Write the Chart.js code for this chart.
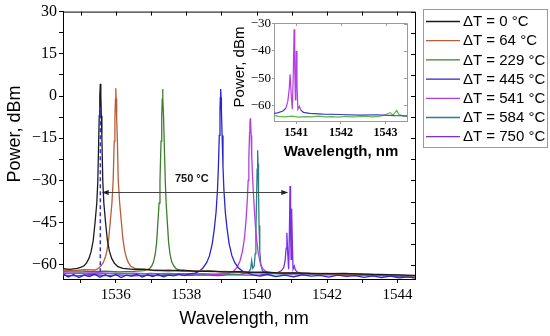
<!DOCTYPE html>
<html>
<head>
<meta charset="utf-8">
<script src="https://cdn.jsdelivr.net/npm/chart.js@4.4.1/dist/chart.umd.min.js"></script>
<style>
  body { margin: 0; background: #fff; }
  #wrap { position: relative; width: 550px; height: 336px; }
  #main { position: absolute; left: 0; top: 0; width: 550px; height: 336px; }
  #inset { position: absolute; left: 220px; top: 14px; width: 195px; height: 150px; }
</style>
</head>
<body>
<div id="wrap">
  <canvas id="main" width="550" height="336"></canvas>
  <canvas id="inset" width="195" height="150"></canvas>
</div>
<script>
// ============================================
// DATA (wavelength nm, power dBm)
// ============================================

const seriesLabels = ['ΔT = 0 °C', 'ΔT = 64 °C', 'ΔT = 229 °C', 'ΔT = 445 °C', 'ΔT = 541 °C', 'ΔT = 584 °C', 'ΔT = 750 °C'];

const dT0 = [[1534.5,-61.3],[1534.7,-61.6],[1534.9,-61.2],[1535.0,-60.9],[1535.1,-60.3],[1535.17,-59.3],[1535.24,-57.6],[1535.3,-55.2],[1535.36,-51.2],[1535.41,-45],[1535.46,-38],[1535.49,-30],[1535.515,-15],[1535.53,-7],[1535.545,0],[1535.56,4.4],[1535.575,0],[1535.59,-7],[1535.605,-15],[1535.63,-30],[1535.66,-38],[1535.71,-45],[1535.76,-51.2],[1535.82,-55.2],[1535.88,-57.6],[1535.96,-59.4],[1536.06,-60.6],[1536.2,-61.2],[1536.5,-61.6],[1536.8,-61.5],[1537.1,-61.9],[1537.5,-62.1],[1537.9,-61.9],[1538.3,-62.3],[1538.7,-62.2],[1539.1,-62.5],[1539.5,-62.4],[1539.9,-62.7],[1540.3,-62.6],[1540.7,-62.9],[1541.1,-62.8],[1541.5,-63.0],[1542.0,-63.1],[1542.5,-63.0],[1543.0,-63.3],[1543.5,-63.4],[1544.0,-63.5],[1544.5,-63.7]];

const dT64 = [[1534.5,-61.8],[1534.8,-62.0],[1535.1,-61.7],[1535.4,-61.8],[1535.5,-61.3],[1535.57,-60.4],[1535.64,-59.3],[1535.7,-57.4],[1535.75,-54.8],[1535.8,-50.6],[1535.84,-45],[1535.89,-38],[1535.925,-30],[1535.955,-16],[1535.975,-8],[1535.99,-1],[1536.0,2.8],[1536.01,-1],[1536.025,-8],[1536.045,-16],[1536.07,-30],[1536.11,-38],[1536.16,-45],[1536.2,-50.6],[1536.25,-54.8],[1536.3,-57.4],[1536.36,-59.3],[1536.43,-60.5],[1536.55,-61.3],[1536.8,-61.7],[1537.1,-62.0],[1537.5,-61.8],[1537.9,-62.2],[1538.3,-62.1],[1538.7,-62.4],[1539.1,-62.3],[1539.5,-62.6],[1539.9,-62.5],[1540.3,-62.8],[1540.7,-62.7],[1541.1,-63.0],[1541.5,-62.9],[1542.0,-63.2],[1542.5,-63.3],[1543.0,-63.2],[1543.5,-63.5],[1544.0,-63.7],[1544.5,-63.9]];

const dT229 = [[1534.5,-62.3],[1534.9,-62.1],[1535.3,-62.4],[1535.7,-62.2],[1536.1,-62.5],[1536.5,-62.3],[1536.8,-62.0],[1536.95,-61.4],[1537.02,-60.4],[1537.07,-59.0],[1537.12,-56.2],[1537.16,-52],[1537.19,-46],[1537.23,-38],[1537.255,-30],[1537.285,-16],[1537.305,-7],[1537.32,-1],[1537.33,2.5],[1537.34,-1],[1537.355,-7],[1537.375,-16],[1537.405,-30],[1537.43,-38],[1537.47,-46],[1537.5,-52],[1537.54,-56.2],[1537.59,-59.0],[1537.65,-60.4],[1537.72,-61.4],[1537.85,-62.0],[1538.2,-62.3],[1538.6,-62.1],[1539.0,-62.5],[1539.4,-62.4],[1539.8,-62.7],[1540.2,-62.6],[1540.6,-62.9],[1541.0,-62.8],[1541.5,-63.1],[1542.0,-63.0],[1542.5,-63.3],[1543.0,-63.2],[1543.5,-63.5],[1544.0,-63.6],[1544.5,-63.9]];

const dT445 = [[1534.5,-63.2],[1534.65,-64.3],[1534.8,-63.4],[1534.95,-64.5],[1535.1,-63.6],[1535.25,-64.1],[1535.4,-63.3],[1535.55,-64.4],[1535.7,-63.5],[1535.85,-64.2],[1536.0,-63.4],[1536.15,-64.5],[1536.3,-63.6],[1536.45,-64.0],[1536.6,-63.3],[1536.75,-64.3],[1536.9,-63.5],[1537.05,-64.1],[1537.2,-63.4],[1537.35,-64.2],[1537.5,-63.6],[1537.65,-63.9],[1537.8,-63.3],[1537.95,-63.8],[1538.1,-63.2],[1538.25,-62.9],[1538.38,-62.2],[1538.48,-61.0],[1538.58,-59.2],[1538.66,-56.8],[1538.74,-52.5],[1538.8,-47],[1538.85,-41],[1538.89,-33],[1538.915,-25],[1538.94,-14],[1538.96,-5],[1538.97,-0.5],[1538.98,2.5],[1538.99,-0.5],[1539.0,-5],[1539.02,-14],[1539.045,-25],[1539.07,-33],[1539.11,-41],[1539.16,-47],[1539.22,-52.5],[1539.3,-56.8],[1539.38,-59.2],[1539.48,-61.0],[1539.6,-62.2],[1539.75,-62.9],[1539.9,-63.5],[1540.1,-64.0],[1540.3,-63.4],[1540.55,-64.1],[1540.8,-63.6],[1541.05,-64.2],[1541.3,-63.5],[1541.55,-64.0],[1541.8,-63.7],[1542.05,-64.3],[1542.3,-63.6],[1542.55,-64.1],[1542.8,-63.8],[1543.05,-64.4],[1543.3,-63.9],[1543.55,-64.5],[1543.8,-64.0],[1544.05,-64.6],[1544.3,-64.2],[1544.5,-64.7]];

const dT541 = [[1534.5,-62.8],[1535.0,-63.0],[1535.5,-62.7],[1536.0,-63.1],[1536.5,-62.9],[1537.0,-63.2],[1537.5,-63.0],[1538.0,-63.3],[1538.5,-63.1],[1538.9,-63.4],[1539.2,-63.0],[1539.35,-62.2],[1539.45,-60.8],[1539.53,-58.5],[1539.6,-55],[1539.66,-50],[1539.7,-44],[1539.74,-36],[1539.76,-30],[1539.78,-22],[1539.8,-13],[1539.81,-9.5],[1539.82,-7.9],[1539.83,-9.5],[1539.845,-14],[1539.86,-21],[1539.89,-30],[1539.925,-38],[1539.96,-45],[1540.0,-51],[1540.05,-56],[1540.11,-59.5],[1540.18,-61.5],[1540.3,-62.6],[1540.6,-63.0],[1541.0,-63.2],[1541.5,-63.0],[1542.0,-63.4],[1542.5,-63.3],[1543.0,-63.6],[1543.5,-63.5],[1544.0,-63.8],[1544.5,-64.0]];

const dT584 = [[1534.5,-63.0],[1535.0,-62.8],[1535.5,-63.2],[1536.0,-62.9],[1536.5,-63.3],[1537.0,-63.0],[1537.5,-63.4],[1538.0,-63.1],[1538.5,-63.5],[1539.0,-63.2],[1539.5,-63.4],[1539.75,-62.8],[1539.83,-61.5],[1539.86,-58.5],[1539.89,-61.2],[1539.93,-60.5],[1539.96,-56],[1539.98,-48],[1540.0,-36],[1540.015,-26],[1540.03,-19.3],[1540.04,-24],[1540.055,-34],[1540.07,-46],[1540.09,-55],[1540.12,-60],[1540.17,-62.2],[1540.3,-63.0],[1540.8,-63.3],[1541.3,-63.1],[1541.8,-63.5],[1542.3,-63.3],[1542.8,-63.7],[1543.3,-63.5],[1543.8,-63.9],[1544.5,-64.1]];

const dT750 = [[1534.5,-63.6],[1534.9,-63.9],[1535.3,-63.4],[1535.7,-63.8],[1536.1,-63.5],[1536.5,-63.9],[1536.9,-63.6],[1537.3,-63.8],[1537.7,-63.4],[1538.1,-63.7],[1538.5,-63.5],[1538.9,-63.8],[1539.3,-63.4],[1539.7,-63.6],[1540.1,-63.5],[1540.4,-63.2],[1540.58,-62.8],[1540.7,-62.1],[1540.77,-61.0],[1540.81,-58.5],[1540.84,-54],[1540.86,-48.6],[1540.885,-56],[1540.91,-61.5],[1540.93,-50],[1540.95,-32],[1540.965,-47],[1540.98,-58],[1540.99,-49],[1541.0,-40],[1541.015,-52],[1541.035,-61.5],[1541.07,-60.4],[1541.1,-61.8],[1541.16,-62.6],[1541.3,-63.0],[1541.6,-63.3],[1542.0,-63.4],[1542.4,-63.6],[1542.8,-63.5],[1543.2,-63.8],[1543.6,-63.9],[1544.0,-64.1],[1544.5,-64.3]];

// green trace shown in the inset
const inset229 = [[1540.5,-63.7],[1540.6,-64.1],[1540.75,-64.3],[1540.9,-64.0],[1541.05,-64.4],[1541.2,-64.2],[1541.35,-64.3],[1541.5,-64.0],[1541.65,-64.3],[1541.8,-64.2],[1541.95,-64.4],[1542.1,-64.1],[1542.25,-64.3],[1542.4,-64.2],[1542.55,-64.0],[1542.7,-64.3],[1542.85,-64.1],[1543.0,-63.5],[1543.1,-62.7],[1543.17,-63.6],[1543.25,-61.9],[1543.3,-63.4],[1543.4,-64.0],[1543.5,-64.2]];

const xTicksMain = [1536, 1538, 1540, 1542, 1544];
const yTicksMain = [-60, -45, -30, -15, 0, 15, 30];
const xTicksInset = [1541, 1542, 1543];
const yTicksInset = [-60, -50, -40, -30];

// ============================================
// STYLE
// ============================================

const colors = {
    d0: '#1b1b1b',
    d64: '#b95c36',
    d229: '#3f7d2e',
    d445: '#2626cc',
    d541: '#b03ee0',
    d584: '#2f7d86',
    d750: '#7b2ee6',
    insetBase: '#3a3ad8',
    insetPeak: '#b43ee0',
    insetGreen: '#5cb84a',
    dash: '#3434c8'
};

const serif = "'Liberation Serif', 'Times New Roman', serif";
const sans = "'Liberation Sans', Arial, sans-serif";

// major ticks plus a minor tick halfway between
function withMinor(major, min, max) {
    const half = (major[1] - major[0]) / 2;
    let v = major[0];
    while (v - half >= min - 1e-9) v -= half;
    const out = [];
    for (; v <= max + 1e-9; v += half) out.push({ value: +v.toFixed(3) });
    return out;
}

const fmtNum = v => v < 0 ? '\u2212' + (-v) : String(v);

// top and right frame with inward ticks
function drawFrame(chart, color, tickLen) {
    const { ctx, chartArea: a, scales } = chart;
    ctx.save();
    ctx.strokeStyle = color;
    ctx.lineWidth = 1;
    ctx.beginPath();
    ctx.moveTo(a.left, a.top + 0.5);
    ctx.lineTo(a.right + 0.5, a.top + 0.5);
    ctx.lineTo(a.right + 0.5, a.bottom);
    scales.x.ticks.forEach(t => {
        const px = Math.round(scales.x.getPixelForValue(t.value)) + 0.5;
        ctx.moveTo(px, a.top);
        ctx.lineTo(px, a.top + tickLen);
    });
    scales.y.ticks.forEach(t => {
        const py = Math.round(scales.y.getPixelForValue(t.value)) + 0.5;
        ctx.moveTo(a.right, py);
        ctx.lineTo(a.right - tickLen, py);
    });
    ctx.stroke();
    ctx.restore();
}

// ============================================
// MAIN CHART
// ============================================

const arrowFrom = 1535.6, arrowTo = 1540.9, arrowLevel = -34.2;
const dashAt = 1535.56;

const mainDecor = {
    id: 'mainDecor',
    afterDatasetsDraw(chart) {
        const { ctx, scales: { x, y } } = chart;
        ctx.save();
        // dashed marker on the 0 °C peak
        ctx.strokeStyle = colors.dash;
        ctx.lineWidth = 1.5;
        ctx.setLineDash([4, 3]);
        ctx.beginPath();
        ctx.moveTo(x.getPixelForValue(dashAt), y.getPixelForValue(-4));
        ctx.lineTo(x.getPixelForValue(dashAt), y.getPixelForValue(-62.5));
        ctx.stroke();
        ctx.setLineDash([]);

        // shift arrow
        const x1 = x.getPixelForValue(arrowFrom), x2 = x.getPixelForValue(arrowTo);
        const ay = Math.round(y.getPixelForValue(arrowLevel)) + 0.5;
        ctx.strokeStyle = '#444';
        ctx.fillStyle = '#222';
        ctx.lineWidth = 1;
        ctx.beginPath();
        ctx.moveTo(x1 + 2, ay);
        ctx.lineTo(x2 - 2, ay);
        ctx.stroke();
        ctx.beginPath();
        ctx.moveTo(x1, ay); ctx.lineTo(x1 + 7, ay - 2.5); ctx.lineTo(x1 + 7, ay + 2.5); ctx.closePath();
        ctx.moveTo(x2, ay); ctx.lineTo(x2 - 7, ay - 2.5); ctx.lineTo(x2 - 7, ay + 2.5); ctx.closePath();
        ctx.fill();

        ctx.font = 'bold 11px ' + sans;
        ctx.textAlign = 'center';
        ctx.textBaseline = 'middle';
        ctx.fillStyle = '#111';
        ctx.fillText('750 °C', x.getPixelForValue(1538.16), y.getPixelForValue(-29.5));
        ctx.restore();
    },
    afterDraw(chart) {
        const { ctx } = chart;
        drawFrame(chart, '#000', 4);
        ctx.save();
        // axis titles
        ctx.fillStyle = '#000';
        ctx.font = '18px ' + sans;
        ctx.textAlign = 'center';
        ctx.textBaseline = 'middle';
        ctx.fillText('Wavelength, nm', 244, 319);
        ctx.translate(15, 134);
        ctx.rotate(-Math.PI / 2);
        ctx.fillText('Power, dBm', 0, 0);
        ctx.setTransform(1, 0, 0, 1, 0, 0);

        // legend box
        ctx.strokeStyle = '#9a9a9a';
        ctx.lineWidth = 1;
        ctx.strokeRect(423.5, 9.5, 124, 138);
        ctx.font = '15px ' + sans;
        ctx.textAlign = 'left';
        chart.data.datasets.forEach((ds, i) => {
            const ly = 21.5 + i * 19.2;
            ctx.strokeStyle = ds.borderColor;
            ctx.lineWidth = 1.3;
            ctx.beginPath();
            ctx.moveTo(426, ly);
            ctx.lineTo(460, ly);
            ctx.stroke();
            ctx.fillStyle = '#000';
            ctx.fillText(ds.label, 463, ly + 0.5);
        });
        ctx.restore();
    }
};

const mainSeries = [dT0, dT64, dT229, dT445, dT541, dT584, dT750];
const mainColors = [colors.d0, colors.d64, colors.d229, colors.d445, colors.d541, colors.d584, colors.d750];

new Chart(document.getElementById('main'), {
    type: 'scatter',
    data: {
        datasets: mainSeries.map((d, i) => ({
            label: seriesLabels[i],
            data: d,
            showLine: true,
            borderColor: mainColors[i],
            borderWidth: 1.3,
            pointRadius: 0,
            tension: 0
        }))
    },
    options: {
        responsive: false,
        devicePixelRatio: 1,
        animation: false,
        events: [],
        layout: { padding: { left: 0, right: 135, top: 10, bottom: 0 } },
        plugins: { legend: { display: false }, tooltip: { enabled: false } },
        scales: {
            x: {
                type: 'linear',
                min: 1534.5,
                max: 1544.5,
                afterFit: s => { s.height = 57; },
                afterBuildTicks: s => { s.ticks = withMinor(xTicksMain, s.min, s.max); },
                border: { color: '#000', width: 1 },
                grid: { drawOnChartArea: false, tickLength: 4, tickColor: '#000' },
                ticks: {
                    autoSkip: false,
                    maxRotation: 0,
                    padding: 3,
                    color: '#000',
                    font: { family: serif, size: 15 },
                    callback: v => xTicksMain.includes(v) ? String(v) : ''
                }
            },
            y: {
                min: -65,
                max: 30,
                afterFit: s => { s.width = 63; },
                afterBuildTicks: s => { s.ticks = withMinor(yTicksMain, s.min, s.max); },
                border: { color: '#000', width: 1 },
                grid: { drawOnChartArea: false, tickLength: 4, tickColor: '#000' },
                ticks: {
                    autoSkip: false,
                    padding: 2,
                    color: '#000',
                    font: { family: serif, size: 16 },
                    callback: v => yTicksMain.includes(v) ? fmtNum(v) : ''
                }
            }
        }
    },
    plugins: [mainDecor]
});

// ============================================
// INSET
// ============================================

const insetDecor = {
    id: 'insetDecor',
    afterDraw(chart) {
        const { ctx } = chart;
        drawFrame(chart, '#9a9a9a', 3);
        ctx.save();
        ctx.fillStyle = '#000';
        ctx.textAlign = 'center';
        ctx.textBaseline = 'middle';
        ctx.font = 'bold 15px ' + sans;
        ctx.fillText('Wavelength, nm', 121, 138);
        ctx.font = '15px ' + sans;
        ctx.translate(20, 53);
        ctx.rotate(-Math.PI / 2);
        ctx.fillText('Power, dBm', 0, 0);
        ctx.restore();
    }
};

new Chart(document.getElementById('inset'), {
    type: 'scatter',
    data: {
        datasets: [
            {
                label: seriesLabels[6],
                data: dT750,
                showLine: true,
                borderWidth: 1.2,
                pointRadius: 0,
                borderColor: colors.insetPeak,
                segment: {
                    borderColor: c => (c.p0.parsed.y < -60.5 && c.p1.parsed.y < -60.5) ? colors.insetBase : colors.insetPeak
                }
            },
            {
                label: seriesLabels[2],
                data: inset229,
                showLine: true,
                borderWidth: 1.2,
                pointRadius: 0,
                borderColor: colors.insetGreen
            }
        ]
    },
    options: {
        responsive: false,
        devicePixelRatio: 1,
        animation: false,
        events: [],
        layout: { padding: { left: 0, right: 8, top: 9, bottom: 0 } },
        plugins: { legend: { display: false }, tooltip: { enabled: false } },
        scales: {
            x: {
                type: 'linear',
                min: 1540.5,
                max: 1543.48,
                afterFit: s => { s.height = 43; },
                afterBuildTicks: s => { s.ticks = xTicksInset.map(v => ({ value: v })); },
                border: { color: '#9a9a9a', width: 1 },
                grid: { drawOnChartArea: false, tickLength: 3, tickColor: '#9a9a9a' },
                ticks: {
                    autoSkip: false,
                    maxRotation: 0,
                    padding: 2,
                    color: '#000',
                    font: { family: serif, size: 12, weight: 'bold' },
                    callback: v => String(v)
                }
            },
            y: {
                min: -65.8,
                max: -29.7,
                afterFit: s => { s.width = 54; },
                afterBuildTicks: s => { s.ticks = yTicksInset.map(v => ({ value: v })); },
                border: { color: '#9a9a9a', width: 1 },
                grid: { drawOnChartArea: false, tickLength: 2, tickColor: '#9a9a9a' },
                ticks: {
                    autoSkip: false,
                    padding: 1,
                    color: '#000',
                    font: { family: serif, size: 13 },
                    callback: v => fmtNum(v)
                }
            }
        }
    },
    plugins: [insetDecor]
});
</script>
</body>
</html>
